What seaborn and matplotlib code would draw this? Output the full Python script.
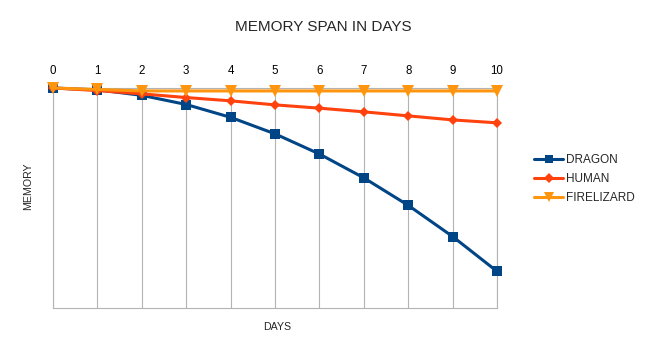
import matplotlib
matplotlib.use("Agg")
import matplotlib.pyplot as plt
import seaborn as sns
import pandas as pd

# values (memory lost, axis drawn reversed)
days = [0, 1, 2, 3, 4, 5, 6, 7, 8, 9, 10]
dragon = [0, 0.5, 2, 4.5, 8, 12.5, 18, 24.5, 32, 40.5, 50]
human = [0, 0.7, 1.6, 2.6, 3.5, 4.6, 5.5, 6.5, 7.6, 8.7, 9.5]
firelizard = [0, 0.4, 0.8, 0.8, 0.8, 0.8, 0.8, 0.8, 0.8, 0.8, 0.8]
series_names = ['DRAGON', 'HUMAN', 'FIRELIZARD']
y_ticks = [0, 10, 20, 30, 40, 50, 60]

colors = {'DRAGON': '#004586', 'HUMAN': '#ff420e', 'FIRELIZARD': '#ff950e'}
markers = {'DRAGON': 's', 'HUMAN': 'D', 'FIRELIZARD': 'v'}
msizes = {'DRAGON': 7, 'HUMAN': 5.5, 'FIRELIZARD': 8}

df = pd.DataFrame({'DAYS': days * 3,
                   'MEMORY': dragon + human + firelizard,
                   'series': sum([[n] * len(days) for n in series_names], [])})

sns.set_style('white')
plt.rcParams['font.family'] = ['Liberation Sans', 'DejaVu Sans']

fig = plt.figure(figsize=(6.47, 3.53), dpi=100)
ax = fig.add_axes([53 / 647, 1 - 308 / 353, 444 / 647, 220 / 353])

for name in series_names:
    sub = df[df['series'] == name]
    sns.lineplot(data=sub, x='DAYS', y='MEMORY', ax=ax, color=colors[name],
                 marker=markers[name], markersize=msizes[name], linewidth=2.2,
                 markeredgecolor=colors[name], markeredgewidth=0,
                 label=name, clip_on=False, zorder=3)

ax.set_xlim(0, 10)
ax.set_ylim(60, 0)
ax.set_xticks(days)
ax.set_yticks(y_ticks)
ax.set_yticklabels([])
ax.xaxis.tick_top()
ax.tick_params(axis='x', direction='out', length=2.5, width=0.8, color='#b3b3b3',
               pad=5.5, labelsize=8.3, labelcolor='black')
ax.tick_params(axis='y', direction='out', length=3.6, width=0.8, color='#b3b3b3')
ax.grid(axis='x', color='#b3b3b3', linewidth=0.8)
ax.grid(axis='y', visible=False)
for sp in ax.spines.values():
    sp.set_color('#b3b3b3')
    sp.set_linewidth(0.8)
ax.set_xlabel('')
ax.set_ylabel('')

fig.text(277 / 647, 1 - 327 / 353, 'DAYS', ha='center', va='center', fontsize=7.7)
fig.text(28 / 647, 1 - 186 / 353, 'MEMORY', ha='center', va='center',
         rotation=90, fontsize=7.7)
fig.text(323.5 / 647, 1 - 27 / 353, 'MEMORY SPAN IN DAYS', ha='center', va='center',
         fontsize=11)

ax.get_legend().remove()
handles, labels = ax.get_legend_handles_labels()
fig.legend(handles, labels, loc='center left', bbox_to_anchor=(528 / 647, 1 - 179 / 353),
           frameon=False, fontsize=8.5, handlelength=2.5, handletextpad=0.2,
           labelspacing=0.62, borderpad=0, markerscale=0.85)

fig.savefig('out.png', dpi=100)
